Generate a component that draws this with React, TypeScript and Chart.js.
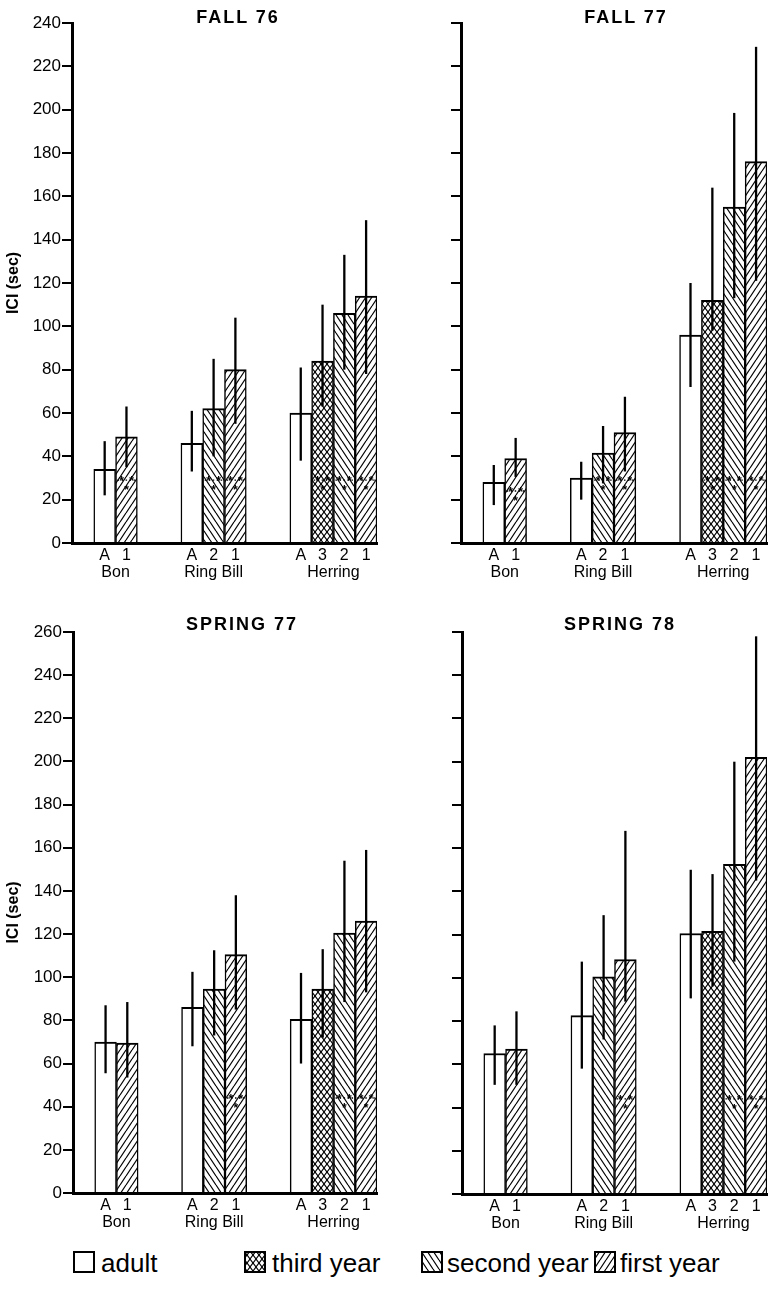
import React, { useEffect, useRef } from 'react';
import { Chart, registerables } from 'chart.js';

Chart.register(...registerables);

// ---------- data ----------
const SLOT_LABELS = ['', 'A', '1', '', '', 'A', '2', '1', '', '', 'A', '3', '2', '1'];
const BAR_SLOTS = [1, 2, 5, 6, 7, 10, 11, 12, 13];
// 0 adult, 1 third year, 2 second year, 3 first year
const BAR_CLASS = [0, 3, 0, 2, 3, 0, 1, 2, 3];
const CLASS_NAMES = ['adult', 'third year', 'second year', 'first year'];
const GROUP_NAMES = ['Bon', 'Ring Bill', 'Herring'];
const GROUP_CENTERS = [2, 6.5, 12];
const Y_STEP = 20;
const Y_LABEL = 'ICI (sec)';

const FALL76_MEAN = [34, 49, 46, 62, 80, 60, 84, 106, 114];
const FALL76_LOW = [22, 35, 33, 40, 55, 38, 63, 80, 78];
const FALL76_HIGH = [47, 63, 61, 85, 104, 81, 110, 133, 149];
const FALL76_STAR_BARS = [1, 3, 4, 6, 7, 8];
const FALL76_STAR_LEVEL = [29, 29, 29, 29, 29, 29];

const FALL77_MEAN = [28, 39, 30, 41.5, 51, 96, 112, 155, 176];
const FALL77_LOW = [17.5, 30.5, 20, 27.5, 33, 72, 98, 113, 121];
const FALL77_HIGH = [36, 48.5, 37.5, 54, 67.5, 120, 164, 198.5, 229];
const FALL77_STAR_BARS = [1, 3, 4, 6, 7, 8];
const FALL77_STAR_LEVEL = [24, 29, 29, 29, 29, 29];

const SPRING77_MEAN = [70, 69.5, 86, 94.5, 110.5, 80.5, 94.5, 120.5, 126];
const SPRING77_LOW = [55.5, 53.5, 68, 73, 85, 60, 72, 88.5, 93];
const SPRING77_HIGH = [87, 88.5, 102.5, 112.5, 138, 102, 113, 154, 159];
const SPRING77_STAR_BARS = [4, 7, 8];
const SPRING77_STAR_LEVEL = [44, 44, 44];

const SPRING78_MEAN = [65, 67, 82.5, 100.5, 108.5, 120.5, 121.5, 152.5, 202];
const SPRING78_LOW = [50.5, 50.5, 58, 71.5, 89, 90.5, 96, 107.5, 145];
const SPRING78_HIGH = [78, 84.5, 107.5, 129, 168, 150, 148, 200, 258];
const SPRING78_STAR_BARS = [4, 7, 8];
const SPRING78_STAR_LEVEL = [44, 44, 44];

// ---------- layout ----------
const FONT = "'Liberation Sans', Arial, Helvetica, sans-serif";

const PANELS = [
  { title: 'FALL 76', mean: FALL76_MEAN, low: FALL76_LOW, high: FALL76_HIGH, starBars: FALL76_STAR_BARS, starLevel: FALL76_STAR_LEVEL, yMax: 240,
    left: 0, top: 0, w: 380, h: 600, yWidth: 72, padTop: 23, padRight: 3, padBottom: 15, labels: true, titleX: 237, titleBase: 23 },
  { title: 'FALL 77', mean: FALL77_MEAN, low: FALL77_LOW, high: FALL77_HIGH, starBars: FALL77_STAR_BARS, starLevel: FALL77_STAR_LEVEL, yMax: 240,
    left: 384, top: 0, w: 385, h: 600, yWidth: 77, padTop: 23, padRight: 2, padBottom: 15, labels: false, titleX: 625, titleBase: 23 },
  { title: 'SPRING 77', mean: SPRING77_MEAN, low: SPRING77_LOW, high: SPRING77_HIGH, starBars: SPRING77_STAR_BARS, starLevel: SPRING77_STAR_LEVEL, yMax: 260,
    left: 0, top: 600, w: 380, h: 640, yWidth: 73, padTop: 32, padRight: 3, padBottom: 5, labels: true, titleX: 241, titleBase: 630 },
  { title: 'SPRING 78', mean: SPRING78_MEAN, low: SPRING78_LOW, high: SPRING78_HIGH, starBars: SPRING78_STAR_BARS, starLevel: SPRING78_STAR_LEVEL, yMax: 260,
    left: 384, top: 600, w: 385, h: 640, yWidth: 78, padTop: 32, padRight: 2, padBottom: 4, labels: false, titleX: 619, titleBase: 630 },
];

const LEGEND_X = [73, 244, 421, 594];
const LEGEND_TEXT_GAP = [6, 6, 4, 4];

// ---------- patterns ----------
function makeFill(kind: number): any {
  if (kind === 0) return '#ffffff';
  const w = 6;
  const h = kind === 1 ? 8 : 9;
  const c = document.createElement('canvas');
  c.width = w;
  c.height = h;
  const ctx = c.getContext('2d')!;
  ctx.fillStyle = '#ffffff';
  ctx.fillRect(0, 0, w, h);
  ctx.strokeStyle = '#000000';
  ctx.lineWidth = kind === 1 ? 1.1 : 1.2;
  const up = () => {
    for (const o of [-w, 0, w]) {
      ctx.beginPath();
      ctx.moveTo(o, h);
      ctx.lineTo(o + w, 0);
      ctx.stroke();
    }
  };
  const down = () => {
    for (const o of [-w, 0, w]) {
      ctx.beginPath();
      ctx.moveTo(o, 0);
      ctx.lineTo(o + w, h);
      ctx.stroke();
    }
  };
  if (kind === 1) { up(); down(); }
  else if (kind === 2) down();
  else up();
  return ctx.createPattern(c, 'repeat');
}

// ---------- plugins ----------
const starPlugin = {
  id: 'stars',
  afterDatasetsDraw(chart: any) {
    const ctx = chart.ctx;
    const y = chart.scales.y;
    chart.data.datasets.forEach((ds: any, di: number) => {
      const meta = chart.getDatasetMeta(di);
      meta.data.forEach((el: any, j: number) => {
        const lvl = ds.stars ? ds.stars[j] : null;
        if (lvl == null) return;
        const py = y.getPixelForValue(lvl);
        const half = el.width / 2;
        ctx.save();
        ctx.strokeStyle = '#000';
        ctx.lineWidth = 1.4;
        ctx.setLineDash([1.5, 2.5]);
        ctx.beginPath();
        ctx.moveTo(el.x - half + 2, py);
        ctx.lineTo(el.x + half - 2, py);
        ctx.stroke();
        ctx.setLineDash([]);
        ctx.fillStyle = '#000';
        ctx.font = `bold 12px ${FONT}`;
        ctx.textAlign = 'center';
        ctx.textBaseline = 'middle';
        ctx.fillText('*', el.x - 5, py + 2);
        ctx.fillText('*', el.x + 5, py + 2);
        ctx.fillText('*', el.x, py + 11);
        ctx.restore();
      });
    });
  },
};

const errorBarPlugin = {
  id: 'errorBars',
  afterDatasetsDraw(chart: any) {
    const ctx = chart.ctx;
    const y = chart.scales.y;
    ctx.save();
    ctx.strokeStyle = '#000';
    ctx.lineWidth = 2.3;
    ctx.lineCap = 'butt';
    chart.data.datasets.forEach((ds: any, di: number) => {
      const meta = chart.getDatasetMeta(di);
      meta.data.forEach((el: any, j: number) => {
        const lo = ds.errLo ? ds.errLo[j] : null;
        const hi = ds.errHi ? ds.errHi[j] : null;
        if (lo == null || hi == null) return;
        ctx.beginPath();
        ctx.moveTo(el.x, y.getPixelForValue(lo));
        ctx.lineTo(el.x, y.getPixelForValue(hi));
        ctx.stroke();
      });
    });
    ctx.restore();
  },
};

function buildDatasets(p: any) {
  return CLASS_NAMES.map((name, c) => {
    const data: (number | null)[] = SLOT_LABELS.map(() => null);
    const errLo: (number | null)[] = SLOT_LABELS.map(() => null);
    const errHi: (number | null)[] = SLOT_LABELS.map(() => null);
    const stars: (number | null)[] = SLOT_LABELS.map(() => null);
    BAR_SLOTS.forEach((s, i) => {
      if (BAR_CLASS[i] !== c) return;
      data[s] = p.mean[i];
      errLo[s] = p.low[i];
      errHi[s] = p.high[i];
      const k = p.starBars.indexOf(i);
      if (k >= 0) stars[s] = p.starLevel[k];
    });
    return {
      label: name,
      data,
      errLo,
      errHi,
      stars,
      backgroundColor: makeFill(c),
      borderColor: '#000',
      borderWidth: { top: 2, left: 1.5, right: 1.5, bottom: 0 },
      borderSkipped: false,
      grouped: false,
      barPercentage: 1,
      categoryPercentage: 1,
    };
  });
}

function Panel({ p }: { p: any }) {
  const ref = useRef<HTMLCanvasElement>(null);
  useEffect(() => {
    const tickFont = { family: FONT, size: 17 };
    const chart = new Chart(ref.current as HTMLCanvasElement, {
      type: 'bar',
      data: { labels: SLOT_LABELS, datasets: buildDatasets(p) as any },
      plugins: [starPlugin, errorBarPlugin],
      options: {
        responsive: false,
        animation: false,
        devicePixelRatio: 1,
        layout: { padding: { top: p.padTop, right: p.padRight, bottom: p.padBottom, left: 0 } },
        plugins: { legend: { display: false }, tooltip: { enabled: false }, title: { display: false } },
        scales: {
          x: {
            type: 'category',
            offset: true,
            weight: 0,
            grid: { display: true, drawOnChartArea: false, drawTicks: false, color: '#000', lineWidth: 1 },
            border: { display: true, color: '#000', width: 3 },
            ticks: { color: '#000', font: { family: FONT, size: 16 }, padding: 3, autoSkip: false, maxRotation: 0, minRotation: 0 },
            afterFit: (s: any) => { s.height = 20; },
          },
          xg: {
            type: 'linear',
            position: 'bottom',
            min: 0,
            max: SLOT_LABELS.length,
            offset: false,
            bounds: 'data',
            weight: 1,
            grid: { display: false, drawTicks: false, offset: false },
            border: { display: false },
            afterBuildTicks: (s: any) => { s.ticks = GROUP_CENTERS.map((v) => ({ value: v })); },
            ticks: {
              color: '#000',
              font: { family: FONT, size: 16 },
              padding: 0,
              autoSkip: false,
              maxRotation: 0,
              minRotation: 0,
              callback: (_v: any, i: number) => GROUP_NAMES[i],
            },
            afterFit: (s: any) => { s.height = 22; },
          },
          y: {
            type: 'linear',
            position: 'left',
            min: 0,
            max: p.yMax,
            ticks: { stepSize: Y_STEP, display: p.labels, padding: 1, color: '#000', font: tickFont },
            grid: { display: true, drawOnChartArea: false, drawTicks: true, tickLength: 10, color: '#000', lineWidth: 2 },
            border: { display: true, color: '#000', width: 3 },
            title: { display: p.labels, text: Y_LABEL, color: '#000', font: { family: FONT, size: 16, weight: 'bold' }, padding: { top: 4, bottom: 4 } },
            afterFit: (s: any) => { s.width = p.yWidth; },
          },
        } as any,
      },
    });
    return () => chart.destroy();
  }, []);
  return (
    <canvas
      ref={ref}
      width={p.w}
      height={p.h}
      style={{ position: 'absolute', left: p.left, top: p.top, width: p.w, height: p.h }}
    />
  );
}

function Swatch({ kind, left }: { kind: number; left: number }) {
  const ref = useRef<HTMLCanvasElement>(null);
  useEffect(() => {
    const c = ref.current as HTMLCanvasElement;
    const ctx = c.getContext('2d')!;
    ctx.clearRect(0, 0, 22, 22);
    ctx.fillStyle = makeFill(kind);
    ctx.fillRect(1, 1, 20, 20);
    ctx.strokeStyle = '#000';
    ctx.lineWidth = 2;
    ctx.strokeRect(1, 1, 20, 20);
  }, []);
  return <canvas ref={ref} width={22} height={22} style={{ position: 'absolute', left, top: 1251, width: 22, height: 22 }} />;
}

export default function App() {
  return (
    <div style={{ position: 'absolute', left: 0, top: 0, width: 769, height: 1289, background: '#fff', overflow: 'hidden' }}>
      {PANELS.map((p, i) => (
        <Panel key={i} p={p} />
      ))}
      {PANELS.map((p, i) => (
        <div
          key={'t' + i}
          style={{
            position: 'absolute',
            left: p.titleX - 100 + 1,
            top: p.titleBase - 15.2,
            width: 200,
            textAlign: 'center',
            fontFamily: FONT,
            fontWeight: 'bold',
            fontSize: 18,
            lineHeight: '18px',
            letterSpacing: 2,
            color: '#000',
            whiteSpace: 'nowrap',
          }}
        >
          {p.title}
        </div>
      ))}
      {CLASS_NAMES.map((name, c) => (
        <React.Fragment key={'l' + c}>
          <Swatch kind={c} left={LEGEND_X[c]} />
          <div
            style={{
              position: 'absolute',
              left: LEGEND_X[c] + 22 + LEGEND_TEXT_GAP[c],
              top: 1250,
              fontFamily: FONT,
              fontSize: 26,
              lineHeight: '26px',
              color: '#000',
              whiteSpace: 'nowrap',
            }}
          >
            {name}
          </div>
        </React.Fragment>
      ))}
    </div>
  );
}
